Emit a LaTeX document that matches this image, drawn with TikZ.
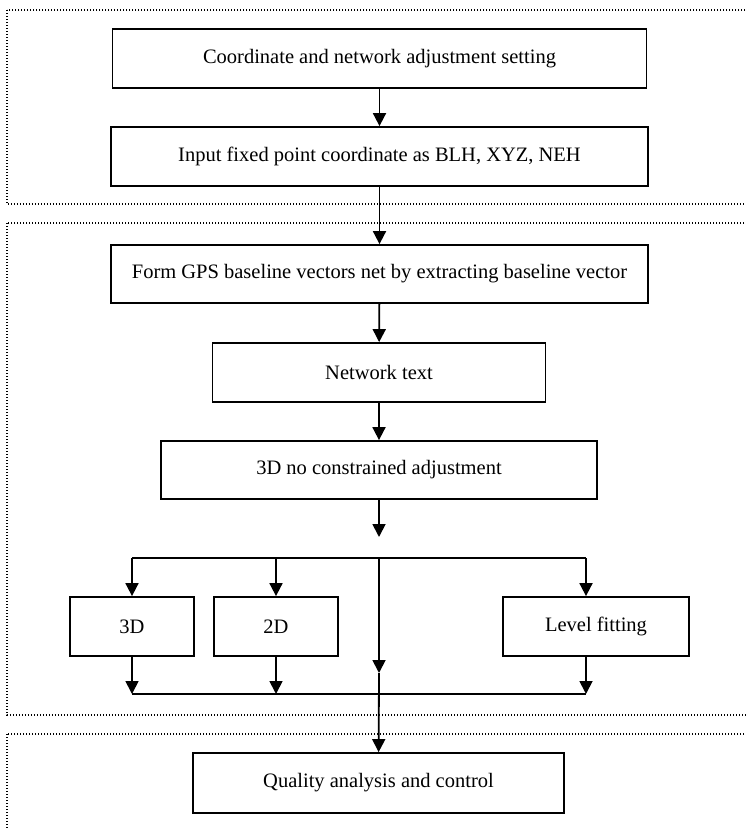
\documentclass[tikz,border=0pt]{standalone}
\usepackage{fontspec}
\setmainfont{Liberation Serif}
\usetikzlibrary{arrows.meta}
\tikzset{
  stage/.style={draw,line width=1.8pt,rectangle,inner sep=0pt,minimum height=59pt,
    font=\fontsize{20.5}{24}\selectfont},
  arr/.style={line width=1.8pt,-{Triangle[width=13pt,length=13pt]}},
  link/.style={line width=1.8pt},
  group/.style={line width=1.3pt,dash pattern=on 1.4pt off 1.6pt}
}
\begin{document}
\begin{tikzpicture}[x=1pt,y=-1pt]
\useasboundingbox (0,0) rectangle (746,830);
\clip (0,0) rectangle (746,830);

\draw[group] (7,10) rectangle (770,204);
\draw[group] (7,223) rectangle (770,715);
\draw[group] (7,734) rectangle (770,860);

\node[stage,minimum width=534pt] (coord) at (379.5,58.5) {Coordinate and network adjustment setting};
\node[stage,minimum width=537pt] (input) at (379.5,156.5) {Input fixed point coordinate as BLH, XYZ, NEH};
\node[stage,minimum width=537pt,minimum height=58pt] (gps) at (379.5,274) {Form GPS baseline vectors net by extracting baseline vector};
\node[stage,minimum width=333pt] (net) at (379,372.5) {Network text};
\node[stage,minimum width=436pt,minimum height=58pt] (adj) at (379,470) {3D no constrained adjustment};

\node[stage,minimum width=124pt] (d3) at (132,626.5) {3D};
\node[stage,minimum width=124pt] (d2) at (276,626.5) {2D};
\node[stage,minimum width=186pt] (lev) at (596,626.5) {Level fitting};

\node[stage,minimum width=371pt,minimum height=60pt] (qual) at (378.5,783) {Quality analysis and control};

\coordinate (fork) at (379,537);
\coordinate (split) at (379,558);
\coordinate (mid) at (379,673);
\coordinate (join) at (379,694);
\coordinate (levtop) at (586,558);
\coordinate (levbot) at (586,694);

\draw[arr] (coord) -- (input);
\draw[arr] (input) -- (gps);
\draw[arr] (gps) -- (net);
\draw[arr] (net) -- (adj);
\draw[arr] (adj) -- (fork);

\draw[link] (d3.north |- split) -- (levtop);
\draw[arr] (d3.north |- split) -- (d3);
\draw[arr] (d2.north |- split) -- (d2);
\draw[arr] (levtop) -- (levtop |- lev.north);
\draw[arr] (split) -- (mid);
\draw[arr] (mid) -- (qual);

\draw[arr] (d3) -- (d3.south |- join);
\draw[arr] (d2) -- (d2.south |- join);
\draw[arr] (levtop |- lev.south) -- (levbot);
\draw[link] (d3.south |- join) -- (levbot);
\end{tikzpicture}
\end{document}
